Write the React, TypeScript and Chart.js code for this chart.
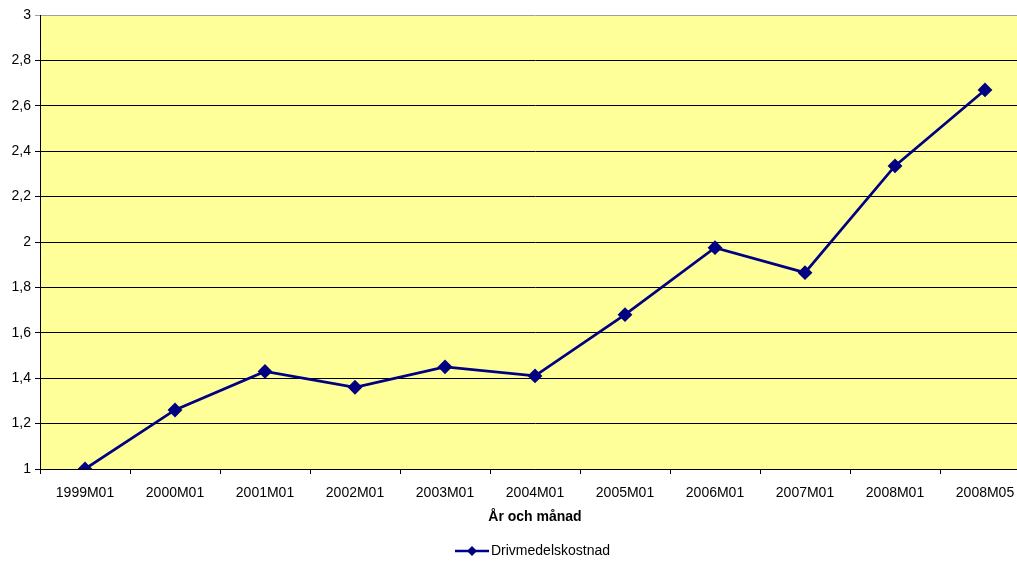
import React, { useEffect, useRef } from "react";
import { Chart, registerables } from "chart.js";

Chart.register(...registerables);

const categories = ["1999M01", "2000M01", "2001M01", "2002M01", "2003M01", "2004M01", "2005M01", "2006M01", "2007M01", "2008M01", "2008M05"];
const fuelCost = [1.0, 1.26, 1.43, 1.36, 1.45, 1.41, 1.68, 1.975, 1.865, 2.335, 2.67];
const seriesName = "Drivmedelskostnad";
const xTitle = "År och månad";
const yMin = 1;
const yMax = 3;
const yStep = 0.2;

const NAVY = "#000080";
const FONT = "'Liberation Sans', Arial, sans-serif";

function makeLegendIcon(): HTMLCanvasElement {
  const c = document.createElement("canvas");
  c.width = 34;
  c.height = 12;
  const ctx = c.getContext("2d")!;
  ctx.strokeStyle = NAVY;
  ctx.lineWidth = 2.5;
  ctx.beginPath();
  ctx.moveTo(0, 6);
  ctx.lineTo(34, 6);
  ctx.stroke();
  ctx.fillStyle = NAVY;
  ctx.beginPath();
  ctx.moveTo(17, 1);
  ctx.lineTo(22, 6);
  ctx.lineTo(17, 11);
  ctx.lineTo(12, 6);
  ctx.closePath();
  ctx.fill();
  return c;
}

export default function App() {
  const ref = useRef<HTMLCanvasElement | null>(null);

  useEffect(() => {
    document.body.style.margin = "0";
    const canvas = ref.current!;
    const icon = makeLegendIcon();
    const bgPlugin = {
      id: "plotBg",
      beforeDraw(chart: any) {
        const { ctx, chartArea } = chart;
        ctx.save();
        ctx.fillStyle = "#FFFF99";
        ctx.fillRect(chartArea.left, chartArea.top, chartArea.right - chartArea.left, chartArea.bottom - chartArea.top);
        ctx.restore();
      },
    };
    const chart = new Chart(canvas, {
      type: "line",
      data: {
        labels: categories,
        datasets: [
          {
            label: seriesName,
            data: fuelCost,
            borderColor: NAVY,
            backgroundColor: NAVY,
            borderWidth: 2.7,
            pointStyle: "rectRot",
            pointRadius: 5.5,
            pointBackgroundColor: NAVY,
            pointBorderColor: NAVY,
            tension: 0,
          },
        ],
      },
      options: {
        animation: false,
        responsive: false,
        devicePixelRatio: 1,
        layout: { autoPadding: false, padding: { top: 15, right: 0, left: 0, bottom: -6 } },
        plugins: {
          tooltip: { enabled: false },
          legend: {
            position: "bottom",
            fullSize: false,
            labels: {
              usePointStyle: true,
              pointStyleWidth: 24,
              color: "#000",
              font: { family: FONT, size: 14 },
              padding: 5,
              generateLabels: () => [
                {
                  text: seriesName,
                  pointStyle: icon as any,
                  fillStyle: NAVY,
                  strokeStyle: NAVY,
                  lineWidth: 0,
                  datasetIndex: 0,
                  hidden: false,
                },
              ],
            },
          },
        },
        scales: {
          x: {
            offset: true,
            grid: {
              offset: true,
              drawOnChartArea: false,
              drawTicks: true,
              tickLength: 5,
              color: "#000",
            },
            border: { color: "#000", width: 1 },
            ticks: {
              color: "#000",
              font: { family: FONT, size: 14 },
              maxRotation: 0,
              autoSkip: false,
              padding: 11,
            },
            title: {
              display: true,
              text: xTitle,
              color: "#000",
              font: { family: FONT, size: 14, weight: "bold" },
              padding: { top: 4, bottom: 13 },
            },
            afterFit(scale: any) {
              scale.height = 70;
              scale.paddingRight = 0;
              scale.paddingLeft = 0;
            },
          },
          y: {
            min: yMin,
            max: yMax,
            grid: {
              color: (ctx: any) => (ctx.tick && ctx.tick.value >= yMax - 1e-9 ? "#a0a0a0" : "#000"),
              tickLength: 5,
              drawTicks: true,
            },
            border: { color: "#000", width: 1 },
            ticks: {
              stepSize: yStep,
              color: "#000",
              font: { family: FONT, size: 14 },
              padding: 4,
              callback: (v: any) => {
                const r = Math.round(Number(v) * 10) / 10;
                return Number.isInteger(r) ? String(r) : r.toFixed(1).replace(".", ",");
              },
            },
            afterFit(scale: any) {
              scale.width = 40;
            },
          },
        },
      },
      plugins: [bgPlugin],
    });
    return () => chart.destroy();
  }, []);

  return (
    <div style={{ width: 1017, height: 562, overflow: "hidden", position: "relative" }}>
      <canvas ref={ref} width={1030} height={562} style={{ display: "block" }} />
    </div>
  );
}
